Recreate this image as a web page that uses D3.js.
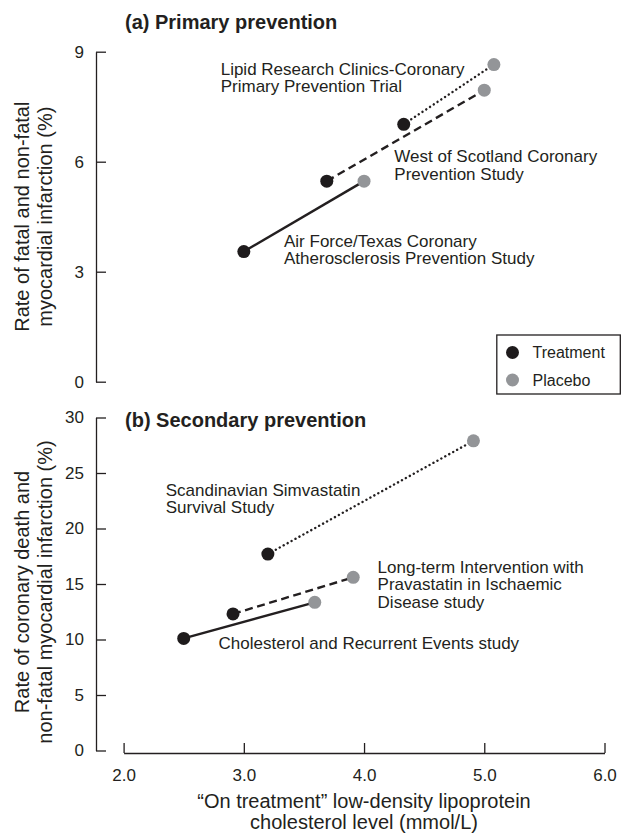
<!DOCTYPE html>
<html><head><meta charset="utf-8">
<script src="https://cdn.jsdelivr.net/npm/d3@7"></script>
<style>
body{margin:0;background:#fff}
svg{display:block}
text{font-family:"Liberation Sans",Arial,Helvetica,sans-serif;fill:#231f20}
</style>
</head><body><svg id="c" width="622" height="837"></svg>
<script>
// ---------- data ----------
const primaryStudies = ["AFCAPS/TexCAPS", "WOSCOPS", "LRC-CPPT"];
const primaryTreatmentLDL = [3.0, 3.69, 4.33];
const primaryTreatmentRate = [3.55, 5.47, 7.02];
const primaryPlaceboLDL = [4.0, 5.0, 5.08];
const primaryPlaceboRate = [5.47, 7.95, 8.65];
const primaryLabels = [
  ["Air Force/Texas Coronary", "Atherosclerosis Prevention Study"],
  ["West of Scotland Coronary", "Prevention Study"],
  ["Lipid Research Clinics-Coronary", "Primary Prevention Trial"]
];
const secondaryStudies = ["CARE", "LIPID", "4S"];
const secondaryTreatmentLDL = [2.5, 2.91, 3.2];
const secondaryTreatmentRate = [10.1, 12.3, 17.7];
const secondaryPlaceboLDL = [3.59, 3.91, 4.91];
const secondaryPlaceboRate = [13.35, 15.6, 27.9];
const secondaryLabels = [
  ["Cholesterol and Recurrent Events study"],
  ["Long-term Intervention with", "Pravastatin in Ischaemic", "Disease study"],
  ["Scandinavian Simvastatin", "Survival Study"]
];
const xTicks = [2, 3, 4, 5, 6];
const primaryYTicks = [0, 3, 6, 9];
const secondaryYTicks = [0, 5, 10, 15, 20, 25, 30];
const legendLabels = ["Treatment", "Placebo"];
const panelTitles = ["(a) Primary prevention", "(b) Secondary prevention"];
const yTitles = [["Rate of fatal and non-fatal", "myocardial infarction (%)"],
                 ["Rate of coronary death and", "non-fatal myocardial infarction (%)"]];
const xTitle = ["\u201cOn treatment\u201d low-density lipoprotein", "cholesterol level (mmol/L)"];

// ---------- styles / layout ----------
const INK = "#231f20", TREAT = "#1e1b1c", PLAC = "#939598";
const dashStyles = [null, "8,4.6", "0.1,4.4"];
const R = 6.5;
const axisX = 96;

const svg = d3.select("#c");
const x = d3.scaleLinear().domain([2, 6]).range([123.6, 604.5]);
const yA = d3.scaleLinear().domain([0, 9]).range([381.7, 51.7]);
const yB = d3.scaleLinear().domain([0, 30]).range([750.5, 417.5]);

function styleAxis(g){
  g.selectAll("path.domain").attr("stroke", INK).attr("stroke-width", 1.3);
  g.selectAll(".tick line").attr("stroke", INK).attr("stroke-width", 1.3);
  g.selectAll(".tick text").attr("fill", INK).style("font-size", "17px")
    .style("font-family", '"Liberation Sans",Arial,sans-serif');
}

// y axes
const gYA = svg.append("g").attr("transform", `translate(${axisX},0)`)
  .call(d3.axisLeft(yA).tickValues(primaryYTicks).tickFormat(d3.format("d"))
    .tickSizeInner(-10).tickSizeOuter(0).tickPadding(12));
styleAxis(gYA);
const gYB = svg.append("g").attr("transform", `translate(${axisX},0)`)
  .call(d3.axisLeft(yB).tickValues(secondaryYTicks).tickFormat(d3.format("d"))
    .tickSizeInner(-10).tickSizeOuter(0).tickPadding(12));
styleAxis(gYB);

// x axis
const gX = svg.append("g").attr("transform", "translate(0,753)")
  .call(d3.axisBottom(x).tickValues(xTicks).tickFormat(d3.format(".1f"))
    .tickSizeInner(-10).tickSizeOuter(0).tickPadding(16));
styleAxis(gX);

// titles
[[125, 29], [125, 427]].forEach((p, i) => {
  svg.append("text").attr("x", p[0]).attr("y", p[1])
    .style("font-size", "20px").style("font-weight", "bold").text(panelTitles[i]);
});

// y titles
[[216.7, 0], [592, 1]].forEach(([cy, i]) => {
  const t = svg.append("text").attr("transform", `translate(0,${cy}) rotate(-90)`)
    .attr("text-anchor", "middle").style("font-size", "20px");
  yTitles[i].forEach((s, j) => t.append("tspan").attr("x", 0).attr("y", j === 0 ? 28.5 : 52).text(s));
});

// x title
xTitle.forEach((s, j) => {
  svg.append("text").attr("x", 364).attr("y", j === 0 ? 808 : 829)
    .attr("text-anchor", "middle").style("font-size", "20px").text(s);
});

// panels
function drawPanel(y, tL, tR, pL, pR, labels, labelPos){
  const g = svg.append("g");
  tL.forEach((_, i) => {
    const ln = g.append("line")
      .attr("x1", x(tL[i])).attr("y1", y(tR[i]))
      .attr("x2", x(pL[i])).attr("y2", y(pR[i]))
      .attr("stroke", INK).attr("stroke-width", i === 2 ? 2.4 : 2.4)
      .attr("stroke-linecap", i === 2 ? "round" : "butt");
    if (dashStyles[i]) ln.attr("stroke-dasharray", dashStyles[i]);
  });
  g.selectAll("circle.t").data(tL).join("circle").attr("class", "t")
    .attr("cx", (d) => x(d)).attr("cy", (d, i) => y(tR[i])).attr("r", R).attr("fill", TREAT);
  g.selectAll("circle.p").data(pL).join("circle").attr("class", "p")
    .attr("cx", (d) => x(d)).attr("cy", (d, i) => y(pR[i])).attr("r", R).attr("fill", PLAC);
  labels.forEach((lines, i) => {
    const t = g.append("text").style("font-size", "17px");
    lines.forEach((s, j) => t.append("tspan").attr("x", labelPos[i][0]).attr("y", labelPos[i][1] + j * 17.4).text(s));
  });
}
drawPanel(yA, primaryTreatmentLDL, primaryTreatmentRate, primaryPlaceboLDL, primaryPlaceboRate,
  primaryLabels, [[284, 246.5], [394.3, 162.3], [220.7, 75]]);
drawPanel(yB, secondaryTreatmentLDL, secondaryTreatmentRate, secondaryPlaceboLDL, secondaryPlaceboRate,
  secondaryLabels, [[218.6, 649], [377.6, 572.7], [165.7, 496]]);

// legend
const lg = svg.append("g");
lg.append("rect").attr("x", 496.8).attr("y", 335).attr("width", 123.5).attr("height", 59)
  .attr("fill", "#fff").attr("stroke", INK).attr("stroke-width", 1.3);
legendLabels.forEach((s, i) => {
  const cy = 352.5 + i * 27.5;
  lg.append("circle").attr("cx", 512.5).attr("cy", cy).attr("r", R).attr("fill", i === 0 ? TREAT : PLAC);
  lg.append("text").attr("x", 532.5).attr("y", cy + 5.8).style("font-size", "16px").text(s);
});
</script>
</body></html>
